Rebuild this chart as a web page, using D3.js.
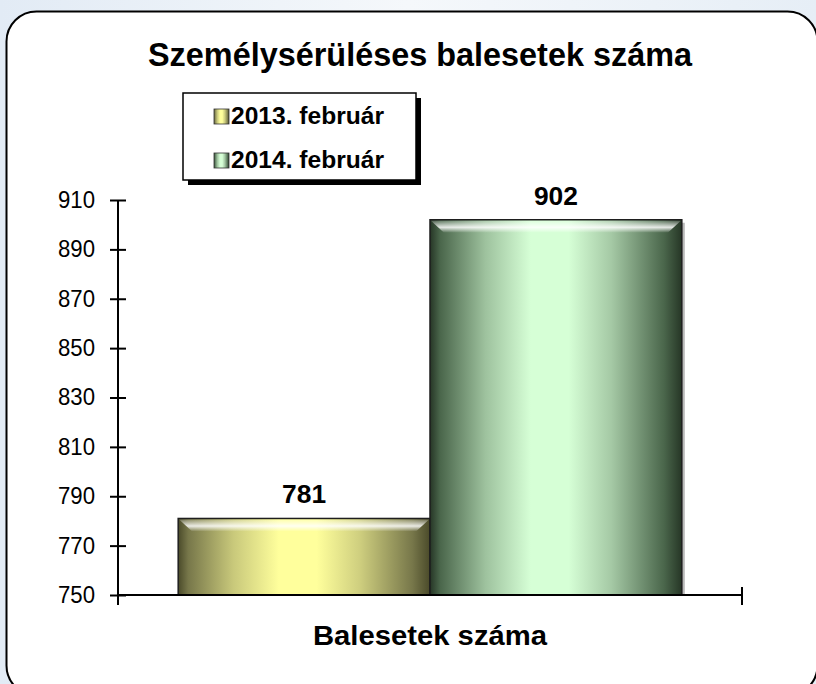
<!DOCTYPE html>
<html><head><meta charset="utf-8">
<script src="https://cdn.jsdelivr.net/npm/d3@7"></script>
<style>
html,body{margin:0;padding:0;background:#eaf1f8;}
svg{display:block;font-family:"Liberation Sans",Arial,sans-serif;}
</style></head>
<body>
<svg id="chart" width="816" height="684"></svg>
<script>
const categories = ["Balesetek száma"];
const seriesNames = ["2013. február", "2014. február"];
const seriesValues = [781, 902];
const yTicks = [750, 770, 790, 810, 830, 850, 870, 890, 910];
const titleText = "Személysérüléses balesetek száma";

const svg = d3.select("#chart");
const defs = svg.append("defs");

// background
const bg = defs.append("linearGradient").attr("id","bgG").attr("x1",0).attr("y1",0).attr("x2",1).attr("y2",0);
bg.append("stop").attr("offset","0%").attr("stop-color","#e2ebf5");
bg.append("stop").attr("offset","50%").attr("stop-color","#f5f8fb");
bg.append("stop").attr("offset","100%").attr("stop-color","#e6eef6");
svg.append("rect").attr("width",816).attr("height",684).attr("fill","url(#bgG)");

// panel
svg.append("rect").attr("x",6.5).attr("y",11.5).attr("width",811).attr("height",684)
  .attr("rx",30).attr("fill","#fff").attr("stroke","#000").attr("stroke-width",2);

const palettes = [
  {edge:"#77774a", mid:"#ffff9c", dark:"#4a4a2a"},
  {edge:"#4a664b", mid:"#d6ffd6", dark:"#263626"}
];
palettes.forEach((p,i)=>{
  const g = defs.append("linearGradient").attr("id","barG"+i).attr("x1",0).attr("y1",0).attr("x2",1).attr("y2",0);
  [[0,p.dark],[0.04,p.edge],[0.22,d3.interpolateRgb(p.edge,p.mid)(0.6)],[0.40,p.mid],[0.55,p.mid],[0.72,d3.interpolateRgb(p.edge,p.mid)(0.65)],[0.93,p.edge],[1,p.dark]]
    .forEach(s=>g.append("stop").attr("offset",s[0]).attr("stop-color",s[1]));
});
const hl = defs.append("linearGradient").attr("id","hlG").attr("x1",0).attr("y1",0).attr("x2",0).attr("y2",1);
hl.append("stop").attr("offset",0).attr("stop-color","#fff").attr("stop-opacity",0.15);
hl.append("stop").attr("offset",0.55).attr("stop-color","#fff").attr("stop-opacity",0.85);
hl.append("stop").attr("offset",1).attr("stop-color","#fff").attr("stop-opacity",0);

const plotL = 118, plotR = 742, plotT = 200, plotB = 595;
const y = d3.scaleLinear().domain([750, 910]).range([plotB, plotT]);
const x0 = d3.scaleBand().domain(categories).range([plotL, plotR]).paddingInner(0).paddingOuter(0.1195);
const x1 = d3.scaleBand().domain(seriesNames).range([0, x0.bandwidth()]).padding(0);

// title
svg.append("text").attr("x",420).attr("y",66).attr("text-anchor","middle")
  .attr("font-size",33).attr("font-weight","bold")
  .attr("textLength",544).attr("lengthAdjust","spacingAndGlyphs").text(titleText);

// bars
const data = seriesNames.map((s,i)=>({cat:categories[0], s, v:seriesValues[i], i}));
const bars = svg.append("g").selectAll("g").data(data).join("g");
bars.append("rect") // shadow
  .attr("x",d=>x0(d.cat)+x1(d.s)+3).attr("y",d=>y(d.v)+3)
  .attr("width",x1.bandwidth()).attr("height",d=>plotB-y(d.v)-3)
  .attr("fill","#bbb");
bars.append("rect")
  .attr("x",d=>x0(d.cat)+x1(d.s)).attr("y",d=>y(d.v))
  .attr("width",x1.bandwidth()).attr("height",d=>plotB-y(d.v))
  .attr("fill",d=>`url(#barG${d.i})`).attr("stroke","#1e1e1e").attr("stroke-width",1.5);
bars.append("path")
  .attr("d",d=>{const bx=x0(d.cat)+x1(d.s), by=y(d.v), w=x1.bandwidth();
     return `M${bx+1},${by+1}L${bx+w-1},${by+1}L${bx+w-14},${by+13}L${bx+14},${by+13}Z`;})
  .attr("fill","url(#hlG)");
bars.append("text")
  .attr("x",d=>x0(d.cat)+x1(d.s)+x1.bandwidth()/2).attr("y",d=>y(d.v)-15)
  .attr("text-anchor","middle").attr("font-size",25).attr("font-weight","bold")
  .attr("textLength",44).attr("lengthAdjust","spacingAndGlyphs").text(d=>d.v);

// y axis
const yAxis = svg.append("g").attr("transform",`translate(${plotL},0)`)
  .call(d3.axisLeft(y).tickValues(yTicks).tickSize(8).tickSizeOuter(0).tickFormat(d3.format("d")));
yAxis.select(".domain").remove();
yAxis.selectAll(".tick line").attr("x1",8).attr("x2",-8).attr("stroke","#000").attr("stroke-width",2);
yAxis.selectAll(".tick text").attr("x",-23).attr("font-size",23).attr("font-family","Liberation Sans, Arial").attr("fill","#000")
  .attr("textLength",37).attr("lengthAdjust","spacingAndGlyphs");
svg.append("line").attr("x1",plotL).attr("x2",plotL).attr("y1",plotT).attr("y2",plotB+10).attr("stroke","#000").attr("stroke-width",2);

// x axis
svg.append("line").attr("x1",plotL).attr("x2",plotR).attr("y1",plotB).attr("y2",plotB).attr("stroke","#000").attr("stroke-width",2);
svg.append("line").attr("x1",plotR).attr("x2",plotR).attr("y1",plotB-8).attr("y2",plotB+10).attr("stroke","#000").attr("stroke-width",2);
svg.selectAll(".xcat").data(categories).join("text").attr("class","xcat")
  .attr("x",d=>x0(d)+x0.bandwidth()/2).attr("y",645).attr("text-anchor","middle")
  .attr("font-size",28).attr("font-weight","bold")
  .attr("textLength",234).attr("lengthAdjust","spacingAndGlyphs").text(d=>d);

// legend
const lg = svg.append("g").attr("transform","translate(183,93)");
lg.append("rect").attr("x",5).attr("y",5).attr("width",233).attr("height",87).attr("fill","#000");
lg.append("rect").attr("x",0).attr("y",0).attr("width",233).attr("height",87).attr("fill","#fff").attr("stroke","#000").attr("stroke-width",1.5);
const items = lg.selectAll("g.it").data(seriesNames).join("g").attr("class","it")
  .attr("transform",(d,i)=>`translate(0,${23+i*44})`);
items.append("rect").attr("x",31).attr("y",-7).attr("width",15).attr("height",15)
  .attr("fill",(d,i)=>`url(#barG${i})`).attr("stroke","#333").attr("stroke-width",0.8);
items.append("text").attr("x",48).attr("y",8).attr("font-size",24).attr("font-weight","bold")
  .attr("textLength",153).attr("lengthAdjust","spacingAndGlyphs").text(d=>d);
</script>
</body></html>
